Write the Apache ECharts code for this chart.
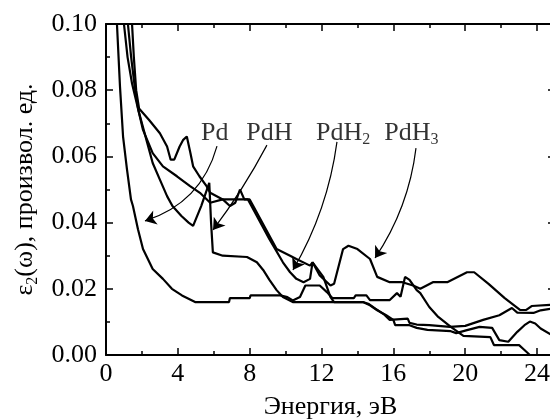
<!DOCTYPE html>
<html>
<head>
<meta charset="utf-8">
<script src="https://cdn.jsdelivr.net/npm/echarts@6/dist/echarts.min.js"></script>
<style>html,body{margin:0;padding:0;background:#fff}#c{width:550px;height:419px}</style>
</head>
<body>
<div id="c"></div>
<script>
// Energy (eV), epsilon2 (arb. units)
var curvePd = [[0.5,0.125],[0.61,0.100],[0.78,0.081],[0.95,0.066],[1.17,0.056],[1.39,0.047],[1.5,0.045],[1.78,0.038],[2.06,0.032],[2.6,0.026],[3.17,0.023],[3.67,0.020],[4.23,0.018],[4.96,0.016],[6.85,0.016],[6.9,0.0172],[8.0,0.0172],[8.05,0.018],[9.7,0.018],[10.1,0.0175],[10.4,0.0165],[10.8,0.0175],[11.1,0.021],[11.9,0.021],[12.3,0.019],[12.6,0.0172],[13.8,0.0172],[13.9,0.018],[14.5,0.018],[14.7,0.0166],[15.8,0.0166],[16.2,0.0187],[16.4,0.0176],[16.65,0.0236],[16.9,0.0227],[17.3,0.0196],[17.5,0.0187],[18.0,0.0145],[18.5,0.0115],[19.2,0.0085],[19.9,0.0058],[21.4,0.0054],[21.6,0.003],[23.0,0.003],[23.3,0.0015],[23.6,0.0],[25,0.0]];
var curvePdH = [[1.1,0.115],[1.22,0.100],[1.4,0.09],[1.6,0.081],[1.8,0.074],[1.95,0.071],[2.3,0.064],[2.6,0.058],[3.0,0.053],[3.4,0.048],[3.7,0.045],[4.2,0.042],[4.6,0.040],[4.85,0.039],[5.3,0.045],[5.75,0.052],[5.85,0.040],[5.95,0.031],[6.5,0.030],[7.85,0.0296],[8.4,0.028],[8.75,0.0257],[9.1,0.0227],[9.5,0.0196],[9.85,0.0175],[10.4,0.016],[14.3,0.016],[14.6,0.0155],[15.0,0.014],[15.5,0.0122],[15.8,0.0106],[16.8,0.011],[16.9,0.0097],[17.3,0.0092],[18.0,0.009],[19.15,0.0085],[20.0,0.0088],[21.0,0.0106],[21.9,0.012],[22.6,0.0142],[22.9,0.0128],[23.8,0.0127],[24.2,0.0135],[25,0.0142]];
var curvePdH2 = [[0.9,0.115],[1.0,0.100],[1.2,0.09],[1.45,0.082],[1.8,0.074],[2.06,0.068],[2.6,0.061],[3.17,0.057],[3.95,0.054],[4.68,0.051],[5.23,0.049],[5.8,0.046],[6.5,0.047],[7.0,0.047],[7.6,0.047],[7.9,0.047],[8.1,0.045],[9.1,0.035],[9.85,0.028],[10.25,0.025],[10.6,0.023],[11.0,0.022],[11.36,0.023],[11.5,0.028],[12.1,0.0236],[12.5,0.0175],[12.7,0.016],[14.3,0.016],[14.7,0.015],[15.1,0.0135],[15.6,0.012],[16.0,0.0106],[16.1,0.009],[16.9,0.009],[17.3,0.0082],[17.9,0.0076],[19.2,0.0072],[19.5,0.0066],[20.1,0.0075],[20.8,0.0085],[21.5,0.0082],[21.9,0.0045],[22.4,0.004],[22.9,0.007],[23.3,0.009],[23.6,0.0101],[23.9,0.0095],[24.2,0.008],[25,0.0055]];
var curvePdH3 = [[1.35,0.112],[1.45,0.100],[1.55,0.09],[1.68,0.08],[1.84,0.0745],[2.4,0.071],[3.0,0.067],[3.4,0.063],[3.6,0.059],[3.8,0.059],[4.1,0.063],[4.3,0.065],[4.5,0.066],[4.7,0.061],[4.85,0.057],[5.2,0.054],[5.6,0.051],[5.8,0.049],[6.5,0.047],[6.9,0.045],[7.2,0.046],[7.46,0.050],[7.7,0.047],[8.0,0.047],[8.2,0.045],[9.5,0.032],[10.25,0.030],[10.6,0.029],[11.36,0.027],[11.5,0.028],[11.9,0.024],[12.5,0.021],[12.7,0.0215],[13.2,0.032],[13.5,0.033],[14.0,0.032],[14.1,0.0325],[14.7,0.029],[15.1,0.0236],[15.8,0.022],[16.5,0.022],[17.1,0.021],[17.5,0.020],[18.2,0.022],[19.0,0.022],[20.1,0.025],[20.5,0.025],[21.3,0.0215],[22.2,0.0172],[23.05,0.0136],[23.4,0.0136],[23.7,0.0148],[25,0.0152]];

var labelTexts = ['{t|Pd}', '{t|PdH}', '{t|PdH}{s|2}', '{t|PdH}{s|3}'];
var labelX = [6.05, 9.1, 13.2, 17.0];
var labelY = [0.067, 0.067, 0.067, 0.067];
// arrows: from label to curve, with curveness
var arrowFrom = [[6.18,0.0631],[8.96,0.0634],[12.86,0.0644],[17.26,0.0625]];
var arrowTo = [[2.17,0.0405],[5.96,0.0378],[10.41,0.0257],[14.98,0.0293]];
var arrowCurv = [0.27, 0.04, 0.1, 0.12];

var xTicks = [0, 4, 8, 12, 16, 20, 24];

var FONT = 'Liberation Serif';
var chart = echarts.init(document.getElementById('c'), null, {renderer: 'canvas'});

function axisCommon(pos, showLabel) {
  return {
    position: pos,
    axisLine: {show: true, onZero: false, lineStyle: {color: '#000', width: 2}},
    axisTick: {show: true, inside: true, length: 7, lineStyle: {color: '#000', width: 1.5}},
    minorTick: {show: true, splitNumber: 2, length: 4, lineStyle: {color: '#000', width: 1.5}},
    splitLine: {show: false},
    minorSplitLine: {show: false},
    axisLabel: {show: showLabel}
  };
}

var xb = axisCommon('bottom', true);
xb.type = 'value'; xb.min = 0; xb.max = 25; xb.interval = 4;
xb.axisLabel = {show: true, color: '#000', fontFamily: FONT, fontSize: 26, margin: 6,
  formatter: function (v) { return xTicks.indexOf(v) >= 0 ? String(v) : ''; }};
xb.name = 'Энергия, эВ'; xb.nameLocation = 'middle'; xb.nameGap = 39;
xb.nameTextStyle = {color: '#000', fontFamily: FONT, fontSize: 26};

var xt = axisCommon('top', false);
xt.type = 'value'; xt.min = 0; xt.max = 25; xt.interval = 4;

var yl = axisCommon('left', true);
yl.type = 'value'; yl.min = 0; yl.max = 0.1; yl.interval = 0.02;
yl.axisLabel = {show: true, color: '#000', fontFamily: FONT, fontSize: 26, margin: 9,
  formatter: function (v) { return v.toFixed(2); }};
yl.name = '{e|ε}{s|2}{e|(ω), произвол. ед.}';
yl.nameLocation = 'middle'; yl.nameRotate = 90; yl.nameGap = 65;
yl.nameTextStyle = {color: '#000', fontFamily: FONT, fontSize: 26,
  rich: {e: {fontFamily: FONT, fontSize: 26, color: '#000', lineHeight: 30},
         s: {fontFamily: FONT, fontSize: 16, color: '#000', verticalAlign: 'bottom', lineHeight: 16, padding: [10, 0, 0, 0]}}};

var yr = axisCommon('right', false);
yr.type = 'value'; yr.min = 0; yr.max = 0.1; yr.interval = 0.02;

function lineSeries(name, data) {
  return {name: name, type: 'line', data: data, xAxisIndex: 0, yAxisIndex: 0,
    showSymbol: false, symbol: 'none', clip: true, silent: true,
    lineStyle: {color: '#000', width: 2.2}};
}

var labelData = labelTexts.map(function (t, i) { return {value: [labelX[i], labelY[i]], name: t}; });
var arrowData = arrowFrom.map(function (f, i) {
  return {coords: [f, arrowTo[i]], lineStyle: {curveness: arrowCurv[i]}};
});

chart.setOption({
  animation: false,
  backgroundColor: '#fff',
  textStyle: {fontFamily: FONT, color: '#000'},
  grid: {left: 106, top: 24, width: 449, height: 331, containLabel: false, outerBoundsMode: 'none'},
  xAxis: [xb, xt],
  yAxis: [yl, yr],
  series: [
    lineSeries('Pd', curvePd),
    lineSeries('PdH', curvePdH),
    lineSeries('PdH2', curvePdH2),
    lineSeries('PdH3', curvePdH3),
    {type: 'scatter', data: labelData, symbolSize: 0, silent: true,
      label: {show: true, position: 'inside', formatter: function (p) { return p.name; },
        rich: {t: {fontFamily: FONT, fontSize: 26, color: '#000', lineHeight: 30},
               s: {fontFamily: FONT, fontSize: 16, color: '#000', verticalAlign: 'bottom', lineHeight: 16, padding: [12, 0, 0, 0]}}}},
    {type: 'lines', coordinateSystem: 'cartesian2d', data: arrowData, silent: true,
      symbol: ['none', 'arrow'], symbolSize: [6, 11],
      lineStyle: {color: '#000', width: 1.2, opacity: 1}}
  ]
});
</script>
</body>
</html>
